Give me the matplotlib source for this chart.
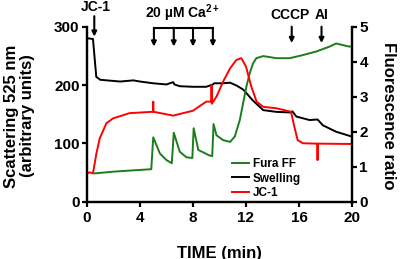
import matplotlib
matplotlib.use("Agg")
import matplotlib.pyplot as plt

# Swelling (left axis, scattering)
sw_t = [0.0, 0.05, 0.45, 0.6, 0.7, 1.0, 1.5, 2.5, 3.5, 4.0, 5.0, 6.0, 6.5, 6.6, 7.0, 8.0, 9.0, 9.5, 9.6, 10.2, 10.8, 11.3, 11.8, 12.5, 13.3, 14.3, 15.4, 15.5, 15.8, 16.8, 17.4, 17.8, 18.8, 19.8, 20.0]
sw_v = [282, 280, 279, 240, 214, 209, 208, 206, 208, 206, 203, 201, 205, 201, 198, 197, 197, 201, 203, 203, 204, 199, 192, 174, 157, 154, 153, 155, 146, 140, 141, 131, 120, 113, 112]

# JC-1 (right axis, fluorescence ratio)
jc_t = [0.0, 0.2, 0.45, 0.71, 0.96, 1.46, 1.96, 3.2, 4.98, 5.0, 5.02, 6.5, 8.0, 9.0, 9.38, 9.4, 9.42, 9.77, 10.27, 10.8, 11.27, 11.65, 12.0, 12.4, 12.8, 13.3, 14.3, 15.4, 15.65, 15.9, 16.3, 17.38, 17.4, 17.42, 20.0]
jc_v = [0.81, 0.84, 0.81, 1.38, 1.81, 2.24, 2.38, 2.53, 2.57, 2.86, 2.57, 2.46, 2.6, 2.86, 2.86, 3.33, 2.8, 3.0, 3.43, 3.81, 4.05, 4.1, 3.86, 3.29, 2.86, 2.71, 2.67, 2.57, 2.14, 1.76, 1.67, 1.66, 1.19, 1.66, 1.65]

# Fura FF (right axis, fluorescence ratio)
ff_t = [0.58, 2.0, 4.85, 5.0, 5.5, 6.0, 6.4, 6.55, 7.0, 7.5, 7.95, 8.05, 8.4, 9.2, 9.45, 9.55, 9.77, 10.27, 10.8, 11.15, 11.53, 11.78, 12.03, 12.28, 12.53, 12.78, 13.3, 14.3, 15.3, 16.3, 17.3, 18.3, 18.8, 19.8, 20.0]
ff_v = [0.81, 0.86, 0.93, 1.84, 1.38, 1.19, 1.1, 1.97, 1.43, 1.27, 1.25, 2.1, 1.48, 1.33, 1.3, 2.22, 1.9, 1.76, 1.71, 1.86, 2.33, 2.81, 3.29, 3.67, 3.95, 4.1, 4.16, 4.1, 4.1, 4.19, 4.29, 4.43, 4.52, 4.43, 4.45]

x_ticks = [0, 4, 8, 12, 16, 20]
left_ticks = [0, 100, 200, 300]
right_ticks = [0, 1, 2, 3, 4, 5]
ca_times = [5.05, 6.55, 8.0, 9.5]

plt.rcParams['font.family'] = ['Liberation Sans', 'DejaVu Sans']
plt.rcParams['font.weight'] = 'bold'
plt.rcParams['mathtext.fontset'] = 'custom'
plt.rcParams['mathtext.bf'] = 'Liberation Sans:bold'
plt.rcParams['mathtext.rm'] = 'Liberation Sans:bold'

fig = plt.figure(figsize=(4.0, 2.59), dpi=100)
ax = fig.add_axes([0.2175, 0.221, 0.6625, 0.676])
ax2 = ax.twinx()

lw = 1.4
green = '#1b7d1b'
ax.plot(sw_t, sw_v, color='black', lw=lw, zorder=3)
l_ff, = ax2.plot(ff_t, ff_v, color=green, lw=lw, label='Fura FF')
l_jc, = ax2.plot(jc_t, jc_v, color='#ff0000', lw=lw, label='JC-1')
l_sw, = ax2.plot([], [], color='black', lw=lw, label='Swelling')

ax.set_xlim(0, 20)
ax.set_ylim(0, 300)
ax2.set_ylim(0, 5)
ax.set_xticks(x_ticks)
ax.set_yticks(left_ticks)
ax2.set_yticks(right_ticks)

for a in (ax, ax2):
    a.spines['top'].set_visible(False)
    for s in ('left', 'right', 'bottom'):
        a.spines[s].set_linewidth(1.6)
    a.tick_params(width=1.6, length=3.8, labelsize=11, pad=1.5)
ax.tick_params(axis='x', pad=3)
for lab in ax.get_xticklabels() + ax.get_yticklabels() + ax2.get_yticklabels():
    lab.set_fontweight('bold')

ax.set_xlabel('TIME (min)', fontsize=12, fontweight='bold')
ax.xaxis.set_label_coords(0.5, -0.25)
ax.set_ylabel('Scattering 525 nm\n(arbitrary units)', fontsize=12, fontweight='bold', linespacing=1.1)
ax.yaxis.set_label_coords(-0.195, 0.49)
ax2.set_ylabel('Fluorescence ratio', fontsize=12, fontweight='bold', rotation=270)
ax2.yaxis.set_label_coords(1.165, 0.49)

ax2.legend(handles=[l_ff, l_sw, l_jc], loc='upper left', bbox_to_anchor=(0.547, 0.25),
           frameon=False, handlelength=1.45, handletextpad=0.3, borderpad=0, borderaxespad=0,
           labelspacing=0.22, prop={'weight': 'bold', 'size': 8.5})

def arrow(x, y0, y1):
    ax.annotate('', xy=(x, y1), xytext=(x, y0), xycoords='data',
                arrowprops=dict(arrowstyle='-|>', color='black', lw=1.5,
                                mutation_scale=7, shrinkA=0, shrinkB=0),
                annotation_clip=False)

arrow(0.55, 318, 283)
ax.text(0.7, 322, 'JC-1', ha='center', va='bottom', fontsize=10, fontweight='bold', clip_on=False)

ax.plot([ca_times[0], ca_times[-1]], [298, 298], color='black', lw=1.5, clip_on=False)
for t in ca_times:
    arrow(t, 298, 266)
ax.text(7.2, 305, r'20 µM Ca$^{\mathbf{2+}}$', ha='center', va='bottom', fontsize=10,
        fontweight='bold', clip_on=False)

arrow(15.45, 300, 272)
ax.text(15.35, 308, 'CCCP', ha='center', va='bottom', fontsize=10, fontweight='bold', clip_on=False)
arrow(17.7, 300, 272)
ax.text(17.7, 308, 'AI', ha='center', va='bottom', fontsize=10, fontweight='bold', clip_on=False)

fig.savefig('out.png', dpi=100)
